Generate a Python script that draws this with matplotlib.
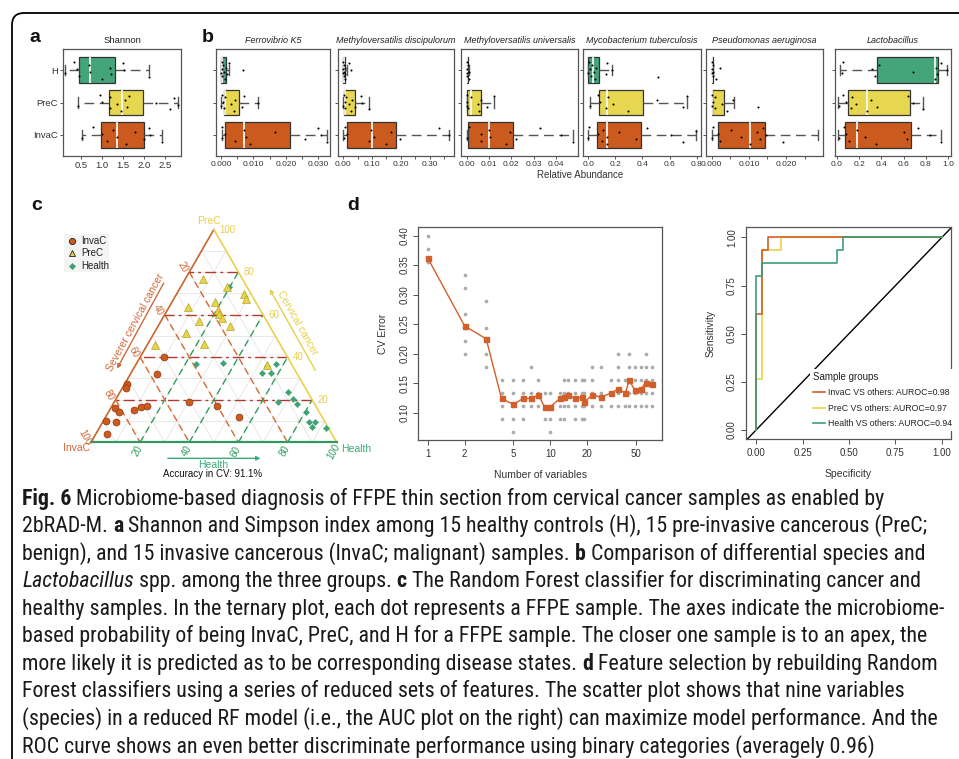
import matplotlib
matplotlib.use('Agg')
import matplotlib.pyplot as plt
import numpy as np
from matplotlib.patches import FancyBboxPatch, Rectangle
from matplotlib.transforms import IdentityTransform
from matplotlib import font_manager
from matplotlib.font_manager import FontProperties

plt.rcParams['font.family'] = ['Liberation Sans', 'DejaVu Sans']

# ====================== DATA ======================
groups = ['InvaC', 'PreC', 'H']

# panel a : Shannon (whislo, q1, median, q3, whishi)
shannon_stats = {'H': (0.12, 0.45, 0.72, 1.32, 2.12),
                 'PreC': (0.42, 1.17, 1.48, 1.98, 2.80),
                 'InvaC': (0.53, 0.98, 1.35, 2.00, 2.42)}
shannon_pts = {'H': [0.12, 0.33, 0.40, 0.45, 0.68, 0.72, 1.00, 1.18, 1.22, 1.50, 1.52, 2.12],
               'PreC': [0.42, 0.95, 1.00, 1.18, 1.20, 1.35, 1.45, 1.55, 1.60, 1.65, 2.28, 2.62, 2.72, 2.80],
               'InvaC': [0.53, 0.78, 1.00, 1.12, 1.25, 1.35, 1.58, 1.78, 2.00, 2.12, 2.15, 2.42]}

# panel b : species relative abundance
ferro_stats = {'H': (0.0, 0.0, 0.0003, 0.0017, 0.0025),
               'PreC': (0.0, 0.0010, 0.0012, 0.0056, 0.0113),
               'InvaC': (0.0003, 0.0014, 0.0070, 0.0214, 0.0327)}
ferro_pts = {'H': [0.0, 0.0002, 0.0003, 0.0005, 0.0008, 0.0010, 0.0012, 0.0015, 0.0020, 0.0025, 0.0067],
             'PreC': [0.0, 0.0003, 0.0008, 0.0010, 0.0012, 0.0030, 0.0040, 0.0045, 0.0065, 0.0070, 0.0113],
             'InvaC': [0.0003, 0.0005, 0.0013, 0.0043, 0.0071, 0.0078, 0.0090, 0.0168, 0.0260, 0.0300, 0.0308, 0.0327]}

mdis_stats = {'H': (0.0, 0.0, 0.002, 0.007, 0.015),
              'PreC': (0.0, 0.003, 0.008, 0.042, 0.091),
              'InvaC': (0.0, 0.015, 0.099, 0.182, 0.367)}
mdis_pts = {'H': [0.0, 0.0, 0.001, 0.002, 0.003, 0.004, 0.005, 0.006, 0.008, 0.019, 0.028],
            'PreC': [0.0, 0.002, 0.005, 0.007, 0.010, 0.020, 0.026, 0.030, 0.041, 0.063, 0.066, 0.088],
            'InvaC': [0.002, 0.006, 0.015, 0.089, 0.097, 0.106, 0.148, 0.165, 0.197, 0.333, 0.367]}

muni_stats = {'H': (0.0, 0.0, 0.0001, 0.0004, 0.0008),
              'PreC': (0.0, 0.0, 0.0018, 0.0063, 0.0124),
              'InvaC': (0.0, 0.0007, 0.0099, 0.0208, 0.0475)}
muni_pts = {'H': [0.0, 0.0001, 0.0002, 0.0003, 0.0005, 0.0008, 0.0010],
            'PreC': [0.0, 0.0, 0.0003, 0.0007, 0.0018, 0.0052, 0.0057, 0.0063, 0.0092, 0.0124],
            'InvaC': [0.0, 0.0008, 0.0064, 0.0064, 0.0099, 0.0104, 0.0175, 0.0193, 0.0222, 0.0329, 0.0422, 0.0475]}

mtub_stats = {'H': (0.0, 0.0, 0.032, 0.081, 0.175),
              'PreC': (0.012, 0.081, 0.135, 0.401, 0.727),
              'InvaC': (0.0, 0.062, 0.135, 0.389, 0.795)}
mtub_pts = {'H': [0.0, 0.005, 0.010, 0.020, 0.030, 0.040, 0.050, 0.060, 0.130, 0.140, 0.175, 0.517],
            'PreC': [0.012, 0.074, 0.086, 0.130, 0.145, 0.185, 0.296, 0.510, 0.700, 0.727],
            'InvaC': [0.0, 0.007, 0.074, 0.099, 0.110, 0.135, 0.140, 0.229, 0.352, 0.431, 0.608, 0.702, 0.795]}

paer_stats = {'H': (0.0, 0.0, 0.0001, 0.0003, 0.0005),
              'PreC': (0.0, 0.0, 0.0002, 0.0034, 0.0060),
              'InvaC': (0.0, 0.0018, 0.0103, 0.0143, 0.0286)}
paer_pts = {'H': [0.0, 0.0001, 0.0002, 0.0003, 0.0004, 0.0005, 0.0013, 0.0022],
            'PreC': [0.0, 0.0001, 0.0003, 0.0008, 0.0009, 0.0027, 0.0042, 0.0058, 0.0125],
            'InvaC': [0.0, 0.0004, 0.0018, 0.0022, 0.0052, 0.0080, 0.0103, 0.0122, 0.0130, 0.0137, 0.0147, 0.0192]}

lacto_stats = {'H': (0.030, 0.358, 0.878, 0.910, 0.985),
               'PreC': (0.015, 0.098, 0.275, 0.657, 0.776),
               'InvaC': (0.015, 0.075, 0.185, 0.663, 0.931)}
lacto_pts = {'H': [0.045, 0.054, 0.313, 0.343, 0.379, 0.681, 0.881, 0.890, 0.900, 0.930, 0.985],
             'PreC': [0.024, 0.060, 0.080, 0.125, 0.134, 0.170, 0.275, 0.307, 0.358, 0.642, 0.687, 0.776],
             'InvaC': [0.024, 0.066, 0.080, 0.113, 0.185, 0.254, 0.349, 0.603, 0.627, 0.731, 0.836, 0.931]}

species_names = ['Ferrovibrio K5', 'Methyloversatilis discipulorum', 'Methyloversatilis universalis',
                 'Mycobacterium tuberculosis', 'Pseudomonas aeruginosa', 'Lactobacillus']

# panel c : ternary probabilities (InvaC, PreC, Health)
tI_invac = [0.500, 0.569, 0.718, 0.729, 0.822, 0.814, 0.749, 0.714, 0.687, 0.889, 0.850, 0.915, 0.505, 0.400, 0.336]
tI_prec = [0.403, 0.321, 0.273, 0.257, 0.160, 0.141, 0.152, 0.168, 0.171, 0.099, 0.096, 0.038, 0.190, 0.171, 0.121]
tI_health = [0.097, 0.110, 0.009, 0.014, 0.018, 0.045, 0.099, 0.118, 0.142, 0.012, 0.054, 0.047, 0.305, 0.429, 0.543]

tP_invac = [0.161, 0.079, 0.028, 0.032, 0.285, 0.165, 0.172, 0.177, 0.175, 0.274, 0.161, 0.356, 0.307, 0.510, 0.104]
tP_prec = [0.766, 0.732, 0.697, 0.674, 0.638, 0.658, 0.622, 0.603, 0.586, 0.572, 0.547, 0.515, 0.464, 0.459, 0.363]
tP_health = [0.073, 0.189, 0.275, 0.294, 0.077, 0.177, 0.206, 0.220, 0.239, 0.154, 0.292, 0.129, 0.229, 0.031, 0.533]

tH_invac = [0.072, 0.389, 0.274, 0.106, 0.063, 0.143, 0.107, 0.078, 0.145, 0.075, 0.073, 0.054, 0.067, 0.041, 0.065, 0.012]
tH_prec = [0.732, 0.368, 0.374, 0.359, 0.368, 0.324, 0.324, 0.237, 0.191, 0.202, 0.179, 0.143, 0.094, 0.094, 0.074, 0.066]
tH_health = [0.196, 0.243, 0.352, 0.535, 0.569, 0.533, 0.569, 0.685, 0.664, 0.723, 0.748, 0.803, 0.839, 0.865, 0.861, 0.922]

# panel d : CV error vs number of variables
cv_nvars = [1, 2, 3, 4, 5, 6, 7, 8, 9, 10, 12, 13, 14, 16, 18, 19, 22, 26, 31, 36, 41, 44, 49, 55, 60, 67]
cv_mean = [0.362, 0.247, 0.225, 0.124, 0.114, 0.124, 0.124, 0.130, 0.109, 0.110, 0.124, 0.127, 0.130,
           0.124, 0.126, 0.118, 0.130, 0.126, 0.133, 0.140, 0.133, 0.155, 0.138, 0.140, 0.151, 0.149]
cv_folds = [[0.400, 0.378, 0.356, 0.356],
            [0.333, 0.311, 0.267, 0.244, 0.222, 0.200],
            [0.289, 0.244, 0.222, 0.200, 0.178],
            [0.156, 0.133, 0.111, 0.089],
            [0.156, 0.133, 0.111, 0.089, 0.067],
            [0.156, 0.133, 0.111, 0.089],
            [0.178, 0.133, 0.111],
            [0.156, 0.133, 0.111],
            [0.133, 0.089],
            [0.133, 0.089, 0.067],
            [0.133, 0.111, 0.089],
            [0.156, 0.133, 0.111, 0.089],
            [0.156, 0.133, 0.111],
            [0.156, 0.133, 0.111, 0.089],
            [0.156, 0.133, 0.111, 0.089],
            [0.156, 0.133, 0.111, 0.089],
            [0.178, 0.156, 0.133, 0.111],
            [0.178, 0.133, 0.111],
            [0.156, 0.133, 0.111],
            [0.200, 0.178, 0.156, 0.133, 0.111],
            [0.156, 0.133, 0.111],
            [0.200, 0.178, 0.156, 0.133, 0.111],
            [0.178, 0.156, 0.133, 0.111],
            [0.178, 0.156, 0.133, 0.111],
            [0.200, 0.178, 0.156, 0.133, 0.111],
            [0.178, 0.156, 0.133, 0.111]]

# ROC curves (x axis as drawn, y = sensitivity)
roc_invac_x = [0, 0, 0.033, 0.033, 0.067, 0.067, 1]
roc_invac_y = [0, 0.600, 0.600, 0.933, 0.933, 1, 1]
roc_prec_x = [0, 0, 0.033, 0.033, 0.133, 0.133, 1]
roc_prec_y = [0, 0.267, 0.267, 0.933, 0.933, 1, 1]
roc_health_x = [0, 0, 0.033, 0.033, 0.433, 0.433, 0.467, 0.467, 1]
roc_health_y = [0, 0.800, 0.800, 0.867, 0.867, 0.933, 0.933, 1, 1]
roc_labels = ['InvaC VS others: AUROC=0.98', 'PreC VS others: AUROC=0.97', 'Health VS others: AUROC=0.94']

caption_lines = [
    [("Fig. 6", 'b'), (" Microbiome-based diagnosis of FFPE thin section from cervical cancer samples as enabled by", 'n')],
    [("2bRAD-M. ", 'n'), ("a", 'b'), (" Shannon and Simpson index among 15 healthy controls (H), 15 pre-invasive cancerous (PreC;", 'n')],
    [("benign), and 15 invasive cancerous (InvaC; malignant) samples. ", 'n'), ("b", 'b'), (" Comparison of differential species and", 'n')],
    [("Lactobacillus", 'i'), (" spp. among the three groups. ", 'n'), ("c", 'b'), (" The Random Forest classifier for discriminating cancer and", 'n')],
    [("healthy samples. In the ternary plot, each dot represents a FFPE sample. The axes indicate the microbiome-", 'n')],
    [("based probability of being InvaC, PreC, and H for a FFPE sample. The closer one sample is to an apex, the", 'n')],
    [("more likely it is predicted as to be corresponding disease states. ", 'n'), ("d", 'b'), (" Feature selection by rebuilding Random", 'n')],
    [("Forest classifiers using a series of reduced sets of features. The scatter plot shows that nine variables", 'n')],
    [("(species) in a reduced RF model (i.e., the AUC plot on the right) can maximize model performance. And the", 'n')],
    [("ROC curve shows an even better discriminate performance using binary categories (averagely 0.96)", 'n')],
]

# ====================== FIGURE ======================
W, H = 959, 759
fig = plt.figure(figsize=(W / 100, H / 100), dpi=100)
fig.patch.set_facecolor('white')


def fx(x):
    return x / W


def fy(y):
    return 1 - y / H


def px_axes(l, t, r, b):
    return fig.add_axes([l / W, 1 - b / H, (r - l) / W, (b - t) / H])


C_H, C_P, C_I = '#44A57B', '#E7D750', '#CB5A1E'
box_colors = [C_I, C_P, C_H]
TXT = '#333333'

# outer rounded border
border = FancyBboxPatch((12, -60), 1100, H - 13 + 60, boxstyle="round,pad=0,rounding_size=12",
                        transform=IdentityTransform(), fill=False, edgecolor='black', linewidth=1.3)
fig.add_artist(border)


def style_axes(ax, size=7):
    for s in ax.spines.values():
        s.set_color('#555555')
        s.set_linewidth(0.9)
    ax.tick_params(length=2.5, width=0.7, color='#555555', labelsize=size, labelcolor=TXT, pad=1.2)


def draw_boxes(ax, stats_d, pts_d, size=7):
    stats = []
    for g in groups:
        lo, q1, med, q3, hi = stats_d[g]
        stats.append(dict(whislo=lo, q1=q1, med=med, q3=q3, whishi=hi, label=g))
    kw = dict(positions=[1, 2, 3], widths=0.8, patch_artist=True, showfliers=False, capwidths=0.32,
              boxprops=dict(edgecolor='#333333', linewidth=0.9),
              medianprops=dict(color='white', linewidth=1.2),
              whiskerprops=dict(color='#555555', linewidth=1.0, linestyle=(0, (7, 4))),
              capprops=dict(color='#555555', linewidth=1.0))
    try:
        bp = ax.bxp(stats, orientation='horizontal', **kw)
    except TypeError:
        bp = ax.bxp(stats, vert=False, **kw)
    for patch, c in zip(bp['boxes'], box_colors):
        patch.set_facecolor(c)
    for i, g in enumerate(groups):
        vals = pts_d[g]
        offs = [((k * 0.618034 + 0.31) % 1 - 0.5) * 0.55 for k in range(len(vals))]
        ax.scatter(vals, [i + 1 + o for o in offs], s=2.2, c='black', zorder=6, linewidths=0)
    ax.set_ylim(0.35, 3.65)
    style_axes(ax, size)


# ---- panel a ----
axa = px_axes(63, 49, 181, 156)
draw_boxes(axa, shannon_stats, shannon_pts, 6.8)
axa.set_xlim(0.07, 2.88)
axa.set_xticks([0.5, 1.0, 1.5, 2.0, 2.5])
axa.set_xticklabels(['0.5', '1.0', '1.5', '2.0', '2.5'])
axa.set_yticks([1, 2, 3])
axa.set_yticklabels(['InvaC', 'PreC', 'H'])
axa.set_title('Shannon', fontsize=6.8, color='#222222', pad=4)

# ---- panel b ----
b_cols = [(216, 330), (338, 454), (461, 578), (583, 701), (706, 823), (835, 951)]
b_data = [(ferro_stats, ferro_pts), (mdis_stats, mdis_pts), (muni_stats, muni_pts),
          (mtub_stats, mtub_pts), (paer_stats, paer_pts), (lacto_stats, lacto_pts)]
b_xlims = [(-0.0015, 0.0336), (-0.018, 0.385), (-0.0026, 0.0499), (-0.039, 0.832), (-0.0015, 0.0299), (-0.015, 1.024)]
b_ticks = [([0, 0.005, 0.01, 0.015, 0.02, 0.025, 0.03], ['0.000', '', '0.010', '', '0.020', '', '0.030']),
           ([0, 0.05, 0.1, 0.15, 0.2, 0.25, 0.3, 0.35], ['0.00', '', '0.10', '', '0.20', '', '0.30', '']),
           ([0, 0.01, 0.02, 0.03, 0.04], ['0.00', '0.01', '0.02', '0.03', '0.04']),
           ([0, 0.2, 0.4, 0.6, 0.8], ['0.0', '0.2', '0.4', '0.6', '0.8']),
           ([0, 0.005, 0.01, 0.015, 0.02, 0.025], ['0.000', '', '0.010', '', '0.020', '']),
           ([0, 0.2, 0.4, 0.6, 0.8, 1.0], ['0.0', '0.2', '0.4', '0.6', '0.8', '1.0'])]
for (l, r), (st, pt), xl, (tk, tl), nm in zip(b_cols, b_data, b_xlims, b_ticks, species_names):
    ax = px_axes(l, 49, r, 156)
    draw_boxes(ax, st, pt, 6.0)
    ax.set_xlim(*xl)
    ax.set_xticks(tk)
    ax.set_xticklabels(tl)
    ax.set_yticks([1, 2, 3])
    ax.set_yticklabels([])
    ax.set_title(nm, fontsize=6.5, style='italic', color='#222222', pad=4)
fig.text(fx(580), fy(175), 'Relative Abundance', fontsize=7, color=TXT, ha='center', va='center')

# panel letters
for s, x, y in [('a', 35, 38), ('b', 208, 37), ('c', 37, 205), ('d', 353, 205)]:
    fig.text(fx(x), fy(y), s, fontsize=14, fontweight='bold', ha='center', va='center', color='#111111')

# ---- panel c : ternary ----
S = 245.7
OX, OY = 91.0, 442.3
tl_, tt_, tr_, tb_ = 20, 196, 360, 486
axc = px_axes(tl_, tt_, tr_, tb_)
axc.set_xlim((tl_ - OX) / S, (tr_ - OX) / S)
axc.set_ylim((OY - tb_) / S, (OY - tt_) / S)
axc.axis('off')
axc.patch.set_alpha(0)
R3 = np.sqrt(3) / 2


def T(inv, pre, hea):
    inv, pre, hea = np.asarray(inv, float), np.asarray(pre, float), np.asarray(hea, float)
    s = inv + pre + hea
    pre, hea = pre / s, hea / s
    return hea + pre / 2, pre * R3


def P(px, py):
    return ((px - OX) / S, (OY - py) / S)


C_edge_I, C_edge_P, C_edge_H = '#C8652A', '#E9D24B', '#2F9960'
for k in range(1, 10):
    v = k / 10
    for a, b in [((v, 1 - v, 0), (v, 0, 1 - v)), ((1 - v, v, 0), (0, v, 1 - v)), ((1 - v, 0, v), (0, 1 - v, v))]:
        x0, y0 = T(*a)
        x1, y1 = T(*b)
        axc.plot([x0, x1], [y0, y1], color='#E4E4E4', lw=0.6, zorder=1)
for k in [0.2, 0.4, 0.6, 0.8]:
    x0, y0 = T(0, k, 1 - k)
    x1, y1 = T(1 - k, k, 0)
    axc.plot([x0, x1], [y0, y1], color='#B23A2C', lw=1.0, ls=(0, (8, 3, 2, 3)), zorder=2)
    x0, y0 = T(k, 1 - k, 0)
    x1, y1 = T(k, 0, 1 - k)
    axc.plot([x0, x1], [y0, y1], color='#D9692E', lw=1.0, ls=(0, (5, 3)), zorder=2)
    x0, y0 = T(1 - k, 0, k)
    x1, y1 = T(0, 1 - k, k)
    axc.plot([x0, x1], [y0, y1], color='#2E9E5E', lw=1.0, ls=(0, (5, 3)), zorder=2)
vI, vP, vH = T(1, 0, 0), T(0, 1, 0), T(0, 0, 1)
axc.plot([vI[0], vP[0]], [vI[1], vP[1]], color=C_edge_I, lw=1.2, zorder=3)
axc.plot([vP[0], vH[0]], [vP[1], vH[1]], color=C_edge_P, lw=1.2, zorder=3)
axc.plot([vI[0], vH[0]], [vI[1], vH[1]], color=C_edge_H, lw=1.6, zorder=3)

for v in [20, 40, 60, 80, 100]:
    f = v / 100
    x, y = T(f, 1 - f, 0)
    axc.annotate(str(v), (x, y), xytext=(-4.5, 3.5), textcoords='offset points', fontsize=7,
                 color='#D0683A', rotation=-60, ha='center', va='center')
    x, y = T(0, f, 1 - f)
    axc.annotate(str(v), (x, y), xytext=(4, 0), textcoords='offset points', fontsize=7,
                 color='#E8CF4A', ha='left', va='center')
    x, y = T(1 - f, 0, f)
    axc.annotate(str(v), (x, y), xytext=(-2, -6.5), textcoords='offset points', fontsize=7,
                 color='#2E9E5E', rotation=60, ha='center', va='center')

axc.text(*P(209, 221), 'PreC', fontsize=7.5, color='#E8CF4A', ha='center', va='center')
axc.text(*P(77, 448), 'InvaC', fontsize=7.5, color='#D0683A', ha='center', va='center')
axc.text(*P(341, 449), 'Health', fontsize=7.5, color='#3DAA7A', ha='left', va='center')

axc.annotate('', xy=P(115.7, 371), xytext=P(165, 280.7),
             arrowprops=dict(arrowstyle='-|>', color='#D0683A', lw=1.0, mutation_scale=6))
axc.text(*P(135, 322), 'Severer cervical cancer', fontsize=7.5, color='#D0683A', rotation=61.5,
         ha='center', va='center', rotation_mode='anchor')
axc.annotate('', xy=P(268.3, 286.7), xytext=P(316.7, 372.7),
             arrowprops=dict(arrowstyle='-|>', color='#E8CF4A', lw=1.0, mutation_scale=6))
axc.text(*P(297, 323), 'Cervical cancer', fontsize=7.5, color='#E8CF4A', rotation=-60.5,
         ha='center', va='center', rotation_mode='anchor')
axc.annotate('', xy=P(263.3, 458.3), xytext=P(165, 458.3),
             arrowprops=dict(arrowstyle='-|>', color='#3DAA7A', lw=1.0, mutation_scale=6))
axc.text(*P(213, 465), 'Health', fontsize=7.5, color='#3DAA7A', ha='center', va='center')
axc.text(*P(213, 474), 'Accuracy in CV: 91.1%', fontsize=7, color='#111111', ha='center', va='center')

x, y = T(tH_invac, tH_prec, tH_health)
axc.plot(x, y, 'D', color='#3DA377', ms=3.2, mec='#3DA377', mew=0.3, ls='none', zorder=5)
x, y = T(tP_invac, tP_prec, tP_health)
axc.plot(x, y, '^', color='#E6D44A', ms=6, mec='#B8A52A', mew=0.5, ls='none', zorder=6)
x, y = T(tI_invac, tI_prec, tI_health)
axc.plot(x, y, 'o', color='#CE5A1C', ms=5, mec='#8A3A12', mew=0.5, ls='none', zorder=7)

lx0, ly0 = P(64, 272)
lx1, ly1 = P(109, 234)
axc.add_patch(Rectangle((lx0, ly0), lx1 - lx0, ly1 - ly0, facecolor='#F4F4F4', edgecolor='none', zorder=4))
for (mk, fc, ec, ms), lab, yy in [(('o', '#CE5A1C', '#222222', 4.5), 'InvaC', 241),
                                   (('^', '#E6D44A', '#222222', 5), 'PreC', 253),
                                   (('D', '#3DA377', '#3DA377', 3), 'Health', 266)]:
    axc.plot(*P(71.7, yy), marker=mk, color=fc, mec=ec, ms=ms, mew=0.6, ls='none', zorder=5)
    axc.text(*P(81, yy), lab, fontsize=7, color='#222222', ha='left', va='center', zorder=5)

# ---- panel d : CV error ----
axd = px_axes(418.3, 227.3, 662.3, 440)
for n, fold in zip(cv_nvars, cv_folds):
    axd.scatter([n] * len(fold), fold, s=7, c='#ABABAB', linewidths=0, zorder=2)
axd.plot(cv_nvars, cv_mean, color='#D2602A', lw=1.0, marker='s', ms=3.6, mec='#D2602A', zorder=3)
axd.set_xscale('log')
axd.set_xlim(0.838, 82)
axd.set_ylim(0.0537, 0.414)
axd.set_xticks([1, 2, 5, 10, 20, 50])
axd.set_xticklabels(['1', '2', '5', '10', '20', '50'])
axd.xaxis.set_minor_locator(matplotlib.ticker.NullLocator())
axd.set_yticks([0.10, 0.15, 0.20, 0.25, 0.30, 0.35, 0.40])
axd.set_yticklabels(['0.10', '0.15', '0.20', '0.25', '0.30', '0.35', '0.40'])
style_axes(axd)
axd.tick_params(length=3.5, pad=3)
axd.tick_params(axis='y', labelrotation=90)
for lab in axd.get_yticklabels():
    lab.set_va('center')
axd.set_xlabel('Number of variables', fontsize=7.5, color=TXT, labelpad=8)
axd.set_ylabel('CV Error', fontsize=7.5, color=TXT, labelpad=8)

# ---- ROC ----
axr = px_axes(746, 227.3, 950.7, 439.3)
axr.set_xlim(-0.054, 1.047)
axr.set_ylim(-0.048, 1.052)
axr.axline((0, 0), (1, 1), color='black', lw=1.0, zorder=1)
l2, = axr.plot(roc_prec_x, roc_prec_y, color='#EFD246', lw=1.2, zorder=3)
l1, = axr.plot(roc_invac_x, roc_invac_y, color='#D4602A', lw=1.2, zorder=4)
l3, = axr.plot(roc_health_x, roc_health_y, color='#3E9E78', lw=1.2, zorder=5)
axr.set_xticks([0, 0.25, 0.5, 0.75, 1.0])
axr.set_xticklabels(['0.00', '0.25', '0.50', '0.75', '1.00'])
axr.set_yticks([0, 0.25, 0.5, 0.75, 1.0])
axr.set_yticklabels(['0.00', '0.25', '0.50', '0.75', '1.00'])
style_axes(axr)
axr.tick_params(length=3.5, pad=3)
axr.tick_params(axis='y', labelrotation=90)
for lab in axr.get_yticklabels():
    lab.set_va('center')
axr.set_xlabel('Specificity', fontsize=7.5, color=TXT, labelpad=8)
axr.set_ylabel('Sensitivity', fontsize=7.5, color=TXT, labelpad=8)
leg = axr.legend([l1, l2, l3], roc_labels, title='Sample groups', loc='upper left',
                 bbox_to_anchor=(fx(810), fy(369)), bbox_transform=fig.transFigure,
                 fontsize=6.3, title_fontsize=7, frameon=True, facecolor='white', edgecolor='none',
                 framealpha=1, borderpad=0.3, handlelength=1.4, handletextpad=0.4, labelspacing=0.75,
                 alignment='left', borderaxespad=0)
for t in leg.get_texts():
    t.set_color('#222222')
leg.get_title().set_color('#222222')

# ---- caption ----
ttf = font_manager.fontManager.ttflist
cond_stretch = ('condensed', 'semi-condensed', 'extra-condensed', 'ultra-condensed')
pref_names = ['Liberation Sans Narrow', 'Roboto Condensed', 'Open Sans Condensed', 'Noto Sans',
              'DejaVu Sans', 'Open Sans', 'Roboto', 'Lato', 'Inter']
cap_family, cap_stretch = 'DejaVu Sans', 'normal'
found = False
for nm in pref_names:
    for f in ttf:
        if f.name == nm and (f.stretch in cond_stretch or 'Narrow' in nm or 'Condensed' in nm):
            cap_family, cap_stretch = nm, (f.stretch if f.stretch in cond_stretch else 'condensed')
            found = True
            break
    if found:
        break
if not found:
    for f in ttf:
        if ('Narrow' in f.name or 'Condensed' in f.name or f.stretch in cond_stretch) and 'CJK' not in f.name:
            cap_family, cap_stretch = f.name, (f.stretch if f.stretch in cond_stretch else 'condensed')
            found = True
            break


def cap_fp(sty, size):
    return FontProperties(family=[cap_family], stretch=cap_stretch, size=size,
                          weight='bold' if sty == 'b' else 'normal',
                          style='italic' if sty == 'i' else 'normal')


renderer = fig.canvas.get_renderer()


def line_width(segs, size):
    w = 0
    for txt, sty in segs:
        t = fig.text(0, 0, txt, fontproperties=cap_fp(sty, size))
        w += t.get_window_extent(renderer).width
        t.remove()
    return w


# right ends of the reference caption lines (left margin 22 px)
cap_right = [869, 937, 926, 921, 937, 937, 945, 899, 955, 893]
base_size = 15
measured = sum(line_width(segs, base_size) for segs in caption_lines)
target = sum(r - 22 for r in cap_right)
cap_size = min(base_size * target / measured, 17)
for i, segs in enumerate(caption_lines):
    x = 22.0
    yb = 504.5 + i * 27.55
    for txt, sty in segs:
        t = fig.text(fx(x), fy(yb), txt, fontproperties=cap_fp(sty, cap_size), va='baseline', ha='left',
                     color='#1a1a1a')
        x += t.get_window_extent(renderer).width

fig.savefig('out.png', dpi=100)
